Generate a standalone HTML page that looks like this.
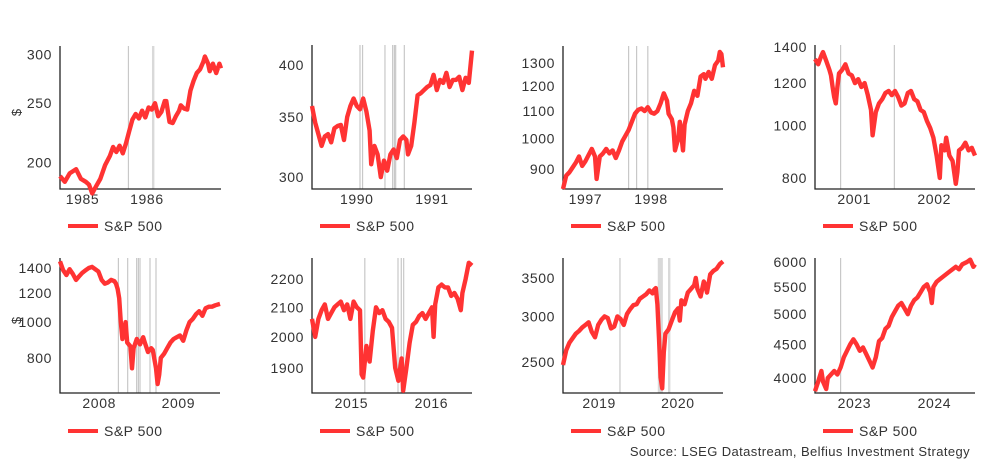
<!DOCTYPE html>
<html><head><meta charset="utf-8">
<style>
html,body{margin:0;padding:0;background:#fff;}
body{width:1006px;height:461px;overflow:hidden;font-family:"Liberation Sans",sans-serif;}
</style></head>
<body>
<svg id="chart" width="1006" height="461" xmlns="http://www.w3.org/2000/svg" font-family="Liberation Sans, sans-serif">
<text x="970" y="456" text-anchor="end" font-size="13" letter-spacing="0.4" fill="#333">Source: LSEG Datastream, Belfius Investment Strategy</text>
</svg>
<script>
// ---- data (time as fraction of window, values in index points) ----
const p1T=[0,.03,.06,.1,.13,.16,.18,.2,.22,.25,.28,.31,.33,.35,.37,.39,.41,.43,.45,.47,.49,.51,.53,.55,.57,.59,.61,.63,.65,.66,.68,.70,.72,.74,.75,.77,.79,.81,.83,.85,.87,.89,.90,.92,.93,.95,.97,.99,1];
const p1V=[190,186,192,195,188,186,184,178,182,188,198,205,212,208,213,207,215,225,235,240,236,243,237,246,244,250,238,242,252,252,233,232,238,243,248,245,244,262,272,280,284,292,298,290,282,290,280,290,285];
const p2T=[0,.02,.04,.06,.08,.1,.12,.14,.16,.18,.2,.22,.24,.26,.28,.3,.32,.34,.36,.37,.39,.41,.43,.45,.47,.49,.51,.53,.55,.57,.59,.6,.62,.64,.66,.68,.7,.72,.74,.76,.78,.8,.82,.84,.86,.88,.9,.92,.94,.96,.98,1];
const p2V=[360,345,335,325,333,335,328,340,342,343,330,350,360,367,360,357,367,355,338,310,325,318,300,313,305,318,322,315,330,333,330,318,325,345,370,372,375,378,380,390,375,385,382,392,378,385,385,388,375,387,382,415];
const p3T=[0,.02,.04,.06,.08,.1,.12,.14,.16,.18,.2,.21,.23,.25,.27,.29,.31,.33,.35,.37,.39,.41,.43,.45,.47,.49,.51,.53,.55,.57,.59,.61,.63,.65,.66,.68,.69,.7,.72,.73,.75,.76,.78,.8,.82,.84,.86,.88,.89,.91,.93,.95,.97,.98,.99,1];
const p3V=[840,880,890,905,920,940,910,925,945,965,940,870,940,950,965,950,960,935,960,990,1010,1030,1060,1090,1105,1110,1100,1115,1095,1090,1100,1130,1170,1140,1090,1070,1040,960,1000,1060,960,1050,1100,1130,1180,1160,1240,1250,1230,1260,1230,1290,1310,1350,1340,1280];
const p4T=[0,.02,.04,.05,.07,.09,.1,.11,.12,.13,.14,.15,.17,.19,.21,.23,.25,.27,.29,.31,.33,.35,.36,.38,.4,.42,.44,.46,.48,.5,.52,.54,.56,.58,.6,.62,.64,.66,.68,.7,.72,.74,.76,.78,.79,.81,.82,.84,.86,.88,.89,.9,.92,.94,.96,.98,1];
const p4V=[1330,1300,1350,1370,1320,1270,1240,1180,1130,1100,1180,1250,1270,1300,1250,1240,1200,1220,1180,1200,1140,1070,960,1060,1100,1120,1150,1160,1140,1160,1130,1090,1100,1150,1160,1120,1110,1070,1060,1020,990,950,880,800,920,900,950,880,860,780,820,900,910,930,900,910,880];
const p5T=[0,.02,.04,.06,.08,.1,.12,.14,.16,.18,.2,.22,.24,.26,.28,.3,.32,.34,.35,.36,.37,.38,.39,.4,.41,.42,.44,.45,.46,.48,.5,.52,.53,.55,.57,.58,.6,.61,.62,.63,.65,.67,.69,.71,.73,.75,.77,.79,.81,.83,.85,.87,.89,.91,.93,.95,.97,1];
const p5V=[1460,1380,1340,1390,1350,1300,1330,1360,1380,1400,1410,1390,1370,1300,1270,1280,1300,1290,1270,1230,1160,1000,900,950,1000,880,860,750,850,900,870,910,880,830,850,840,750,680,720,800,820,850,880,900,910,920,890,950,1000,1020,1050,1070,1040,1090,1100,1100,1110,1120];
const p6T=[0,.02,.04,.06,.08,.1,.12,.14,.16,.18,.2,.22,.24,.26,.28,.3,.31,.32,.34,.36,.38,.4,.42,.44,.46,.48,.5,.52,.54,.56,.57,.59,.61,.63,.65,.67,.69,.71,.73,.75,.76,.77,.79,.81,.83,.85,.87,.89,.91,.93,.94,.96,.98,1];
const p6V=[2060,2000,2060,2090,2110,2060,2080,2100,2110,2120,2090,2110,2060,2120,2100,2090,1880,1870,1970,1920,2020,2100,2080,2090,2060,2050,2030,1900,1860,1930,1830,1900,1980,2040,2050,2070,2080,2060,2080,2100,2000,2110,2170,2180,2170,2170,2140,2150,2130,2090,2150,2200,2260,2250];
const p7T=[0,.02,.04,.06,.08,.1,.12,.14,.16,.18,.2,.22,.24,.26,.28,.3,.32,.34,.36,.38,.4,.42,.44,.46,.48,.5,.52,.54,.56,.57,.58,.59,.6,.61,.62,.63,.64,.66,.68,.7,.72,.73,.74,.76,.78,.8,.82,.83,.84,.86,.88,.89,.9,.92,.94,.96,.98,1];
const p7V=[2470,2620,2700,2750,2800,2830,2870,2900,2930,2820,2760,2900,2960,3000,2980,2860,2880,3000,2970,2900,3030,3090,3140,3150,3220,3250,3280,3330,3290,3340,3360,3150,2750,2350,2250,2600,2800,2850,2950,3050,3100,2950,3200,3150,3300,3350,3400,3500,3350,3250,3450,3400,3300,3550,3600,3630,3700,3740];
const p8T=[0,.02,.04,.05,.07,.08,.1,.12,.14,.16,.18,.2,.22,.24,.26,.28,.3,.32,.34,.36,.38,.4,.42,.44,.46,.48,.5,.52,.54,.56,.58,.6,.62,.64,.66,.68,.7,.72,.73,.74,.76,.78,.8,.82,.84,.86,.88,.9,.92,.95,.97,.99,1];
const p8V=[3820,3950,4100,3950,3850,4000,4050,4100,4050,4150,4300,4400,4500,4580,4500,4400,4450,4350,4250,4150,4300,4550,4600,4750,4800,4950,5050,5150,5200,5100,5000,5150,5250,5300,5400,5500,5550,5400,5200,5500,5600,5650,5700,5750,5800,5850,5900,5850,5950,6000,6050,5900,5950];
// y ticks
const p1Y=[200,250,300], p2Y=[300,350,400], p3Y=[900,1000,1100,1200,1300], p4Y=[800,1000,1200,1400];
const p5Y=[800,1000,1200,1400], p6Y=[1900,2000,2100,2200], p7Y=[2500,3000,3500], p8Y=[4000,4500,5000,5500,6000];
// y domains (log)
const p1D=[181,310], p2D=[291,421], p3D=[840,1378], p4D=[763,1412], p5D=[643,1490], p6D=[1823,2278], p7D=[2208,3791], p8D=[3796,6085];
// x tick labels and their time fractions
const p1XL=["1985","1986"], p1XT=[.14,.54];
const p2XL=["1990","1991"], p2XT=[.28,.75];
const p3XL=["1997","1998"], p3XT=[.14,.55];
const p4XL=["2001","2002"], p4XT=[.245,.745];
const p5XL=["2008","2009"], p5XT=[.245,.74];
const p6XL=["2015","2016"], p6XT=[.246,.746];
const p7XL=["2019","2020"], p7XT=[.226,.718];
const p8XL=["2023","2024"], p8XT=[.246,.746];
// event markers (time fraction start,end)
const p1E=[[.425,.425],[.575,.59]];
const p2E=[[.3,.3],[.316,.316],[.456,.456],[.504,.504],[.515,.515],[.523,.523],[.577,.577]];
const p3E=[[.41,.41],[.46,.46],[.53,.53]];
const p4E=[[.16,.16],[.496,.496]];
const p5E=[[.365,.365],[.423,.423],[.479,.479],[.49,.49],[.5,.5],[.5625,.5625],[.6,.6]];
const p6E=[[.33,.33],[.5375,.5375],[.558,.558],[.573,.573]];
const p7E=[[.356,.356],[.596,.628],[.66,.675]];
const p8E=[[.16,.16]];

const NS="http://www.w3.org/2000/svg";
const svg=document.getElementById('chart');
function mk(t,a,p){const e=document.createElementNS(NS,t);for(const k in a)e.setAttribute(k,a[k]);(p||svg).appendChild(e);return e;}
const layout=[{x:60,top:46,bot:189,w:161},{x:312,top:45,bot:189,w:160},{x:563,top:46,bot:189,w:160},{x:815,top:45,bot:189,w:160},
{x:60,top:258,bot:393,w:160},{x:312,top:258,bot:393,w:160},{x:563,top:258,bot:393,w:160},{x:815,top:258,bot:393,w:160}];
const panels=[[p1T,p1V,p1Y,p1D,p1XL,p1XT,p1E,true],[p2T,p2V,p2Y,p2D,p2XL,p2XT,p2E,false],[p3T,p3V,p3Y,p3D,p3XL,p3XT,p3E,false],[p4T,p4V,p4Y,p4D,p4XL,p4XT,p4E,false],
[p5T,p5V,p5Y,p5D,p5XL,p5XT,p5E,true],[p6T,p6V,p6Y,p6D,p6XL,p6XT,p6E,false],[p7T,p7V,p7Y,p7D,p7XL,p7XT,p7E,false],[p8T,p8V,p8Y,p8D,p8XL,p8XT,p8E,false]];
panels.forEach((p,i)=>{
  const [T,V,Y,D,XL,XT,E,dollar]=p; const L=layout[i];
  const g=mk('g',{});
  
  
  const xs=t=>L.x+t*L.w;
  const ys=v=>L.bot-(Math.log(v)-Math.log(D[0]))/(Math.log(D[1])-Math.log(D[0]))*(L.bot-L.top);
  E.forEach(e=>{
    const w=Math.max(1.2,xs(e[1])-xs(e[0]));
    const r=mk('rect',{x:xs(e[0])-0.6,y:L.top,width:w,height:L.bot-L.top,fill:e[1]>e[0]?'#d9d9d9':'#c8c8c8'},g);
    
    
  });
  Y.forEach(v=>{
    const t=mk('text',{x:L.x-8,y:ys(v)+5,'text-anchor':'end','font-size':'14','letter-spacing':'0.6',fill:'#333'},g);t.textContent=v;
    
    
  });
  XL.forEach((s,j)=>{
    const t=mk('text',{x:xs(XT[j]),y:L.bot+15,'text-anchor':'middle','font-size':'14','letter-spacing':'0.6',fill:'#333'},g);t.textContent=s;
    
    
  });
  const ax=mk('path',{d:`M${L.x} ${L.top}V${L.bot}H${L.x+L.w}`,stroke:'#222','stroke-width':1.3,fill:'none'},g);
  
  
  const d=T.map((t,j)=>(j?'L':'M')+xs(t).toFixed(1)+' '+ys(V[j]).toFixed(1)).join('');
  const ln=mk('path',{d:d,stroke:'#ff3333','stroke-width':4.4,fill:'none','stroke-linejoin':'round'},g);
  
  
  if(dollar){
    const t=mk('text',{x:0,y:0,'font-size':'13',fill:'#333','text-anchor':'middle',transform:`translate(21,${(L.top+L.bot)/2-5}) rotate(-90)`},g);t.textContent='$';
    
    
  }
  const ly=i<4?226:431;
  const lg=mk('g',{},g);
  
  
  mk('line',{x1:L.x+8,x2:L.x+38,y1:ly,y2:ly,stroke:'#ff3333','stroke-width':4},lg);
  const lt=mk('text',{x:L.x+44,y:ly+5,'font-size':'14','letter-spacing':'0.5',fill:'#333'},lg);lt.textContent='S&P 500';
});
</script>
</body></html>
